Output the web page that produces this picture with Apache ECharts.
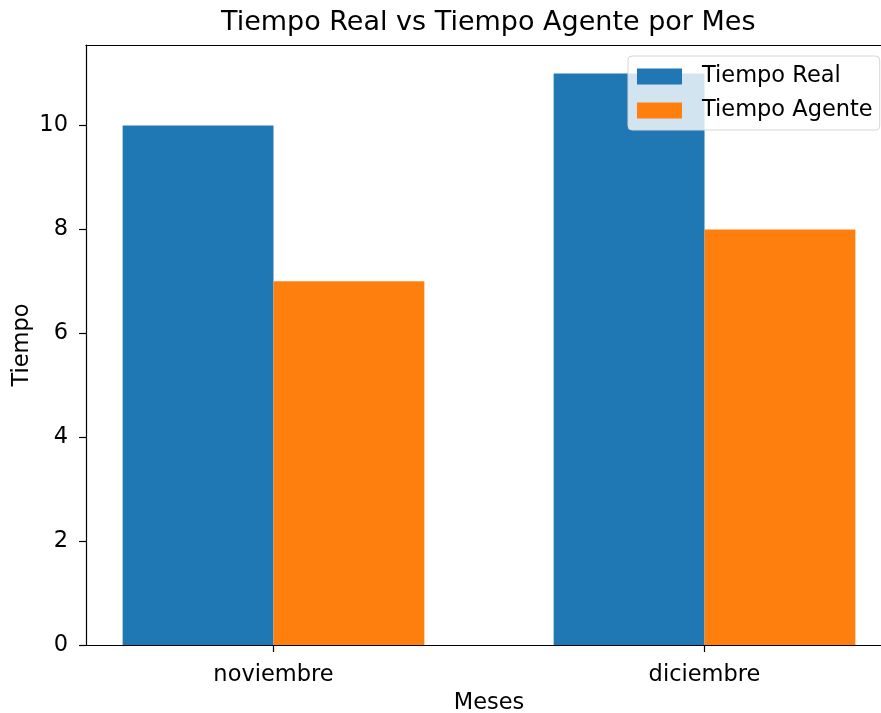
<!DOCTYPE html>
<html>
<head>
<meta charset="utf-8">
<script src="https://cdn.jsdelivr.net/npm/echarts@6/dist/echarts.min.js"></script>
<style>
  html, body { margin: 0; padding: 0; background: #fff; }
  #chart { width: 881px; height: 713px; }
</style>
</head>
<body>
<div id="chart"></div>
<script>
  // datos
  var meses = ['noviembre', 'diciembre']
  var tiempoReal = [10, 11]
  var tiempoAgente = [7, 8]
  var yTicks = [0, 2, 4, 6, 8, 10]
  var xTicks = [0, 1]
  var anchoBarra = 0.35

  var fuente = 'DejaVu Sans'

  function barras (nombre, valores, desplazamiento, color) {
    return {
      name: nombre,
      type: 'custom',
      xAxisIndex: 0,
      itemStyle: { color: color },
      data: valores.map(function (v, i) { return [i, v] }),
      renderItem: function (params, api) {
        var x = api.value(0)
        var arriba = api.coord([x + desplazamiento, api.value(1)])
        var abajo = api.coord([x + desplazamiento + anchoBarra, 0])
        return {
          type: 'rect',
          shape: { x: arriba[0], y: arriba[1], width: abajo[0] - arriba[0], height: abajo[1] - arriba[1] },
          style: { fill: color }
        }
      }
    }
  }

  var chart = echarts.init(document.getElementById('chart'))
  var option = {
    animation: false,
    backgroundColor: '#fff',
    textStyle: { fontFamily: fuente },
    title: {
      text: 'Tiempo Real vs Tiempo Agente por Mes',
      left: 216,
      top: 4,
      textStyle: { fontFamily: fuente, fontSize: 27, fontWeight: 'normal', color: '#000' }
    },
    legend: {
      orient: 'vertical',
      left: 628,
      top: 56,
      padding: [9, 7, 8, 9],
      itemWidth: 45,
      itemHeight: 16,
      itemGap: 11,
      icon: 'rect',
      backgroundColor: 'rgba(255,255,255,0.8)',
      borderColor: '#d6d6d6',
      borderWidth: 1,
      borderRadius: 4,
      z: 10,
      textStyle: { fontFamily: fuente, fontSize: 22.5, lineHeight: 22, color: '#000', padding: [0, 0, 0, 15] },
      data: ['Tiempo Real', 'Tiempo Agente']
    },
    grid: { left: 86, right: -11, top: 45, bottom: 68, outerBoundsMode: 'none', containLabel: false },
    xAxis: [
      {
        type: 'value',
        min: -0.435,
        max: 1.435,
        name: 'Meses',
        nameLocation: 'middle',
        nameGap: 47,
        nameMoveOverlap: false,
        nameTextStyle: { fontFamily: fuente, fontSize: 22.5, color: '#000' },
        splitLine: { show: false },
        axisLine: { onZero: false, lineStyle: { color: '#000', width: 1.2 } },
        axisTick: { show: true, length: 7, customValues: xTicks, lineStyle: { color: '#000', width: 1.2 } },
        axisLabel: {
          customValues: xTicks,
          margin: 19,
          fontFamily: fuente,
          fontSize: 22.5,
          color: '#000',
          formatter: function (v) { return meses[Math.round(v)] }
        }
      },
      {
        type: 'value',
        position: 'top',
        min: -0.435,
        max: 1.435,
        splitLine: { show: false },
        axisLine: { show: true, onZero: false, lineStyle: { color: '#000', width: 1.2 } },
        axisTick: { show: false },
        axisLabel: { show: false }
      }
    ],
    yAxis: {
      type: 'value',
      min: 0,
      max: 11.55,
      name: 'Tiempo',
      nameLocation: 'middle',
      nameGap: 52,
      nameMoveOverlap: false,
      nameRotate: 90,
      nameTextStyle: { fontFamily: fuente, fontSize: 22.5, color: '#000' },
      splitLine: { show: false },
      axisLine: { show: true, onZero: false, lineStyle: { color: '#000', width: 1.2 } },
      axisTick: { show: true, length: 7, customValues: yTicks, lineStyle: { color: '#000', width: 1.2 } },
      axisLabel: { customValues: yTicks, margin: 18, fontFamily: fuente, fontSize: 22.5, color: '#000' }
    },
    series: [
      barras('Tiempo Real', tiempoReal, -anchoBarra, '#1f77b4'),
      barras('Tiempo Agente', tiempoAgente, 0, '#ff7f0e')
    ]
  }
  chart.setOption(option)
</script>
</body>
</html>
